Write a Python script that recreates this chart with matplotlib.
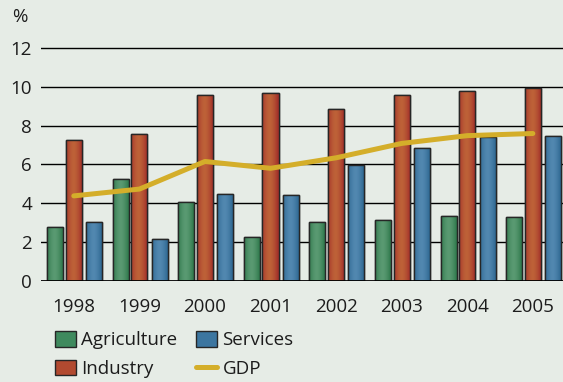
import numpy as np
import matplotlib
matplotlib.use("Agg")
import matplotlib.pyplot as plt
from matplotlib.colors import LinearSegmentedColormap

plt.rcParams['font.family'] = ['Open Sans', 'DejaVu Sans']

years = ['1998', '1999', '2000', '2001', '2002', '2003', '2004', '2005']
agriculture = [2.76, 5.24, 4.05, 2.27, 3.04, 3.14, 3.35, 3.28]
industry = [7.25, 7.57, 9.56, 9.66, 8.87, 9.56, 9.80, 9.92]
services = [3.06, 2.15, 4.50, 4.41, 5.98, 6.84, 7.42, 7.47]
gdp = [4.38, 4.73, 6.15, 5.80, 6.34, 7.08, 7.48, 7.59]

bg = '#E6ECE6'
ink = '#1C1C1C'
# (edge shade, centre highlight, flat colour) for the cylinder-like fill
shades = {
    'Agriculture': ('#2B7548', '#5A9A72', '#3F8A5E'),
    'Industry': ('#A2302A', '#BE6238', '#B24A30'),
    'Services': ('#2C6690', '#5288B0', '#3C76A0'),
}

fig = plt.figure(figsize=(5.63, 3.82), dpi=100, facecolor=bg)
ax = fig.add_axes([41 / 563, 1 - 281 / 382, 1 - 41 / 563, (281 - 41) / 382])
ax.set_facecolor(bg)

x = np.arange(len(years))
w = 0.245
series = [('Agriculture', agriculture, -0.285),
          ('Industry', industry, 0.0),
          ('Services', services, 0.31)]

prof = np.linspace(0, 1, 64)
prof = 1 - np.abs(2 * prof - 0.9) ** 1.6
grad = np.clip(prof, 0, 1)[None, :]

handles = {}
for name, vals, off in series:
    dark, light, base = shades[name]
    cmap = LinearSegmentedColormap.from_list(name, [dark, light])
    bars = ax.bar(x + off, vals, w, color=base, edgecolor='#262626',
                  linewidth=1.0, zorder=3)
    handles[name] = bars
    for r in bars:
        bx, by = r.get_x(), r.get_y()
        im = ax.imshow(grad, extent=[bx, bx + r.get_width(), by, by + r.get_height()],
                       aspect='auto', cmap=cmap, vmin=0, vmax=1, zorder=3.1,
                       interpolation='bilinear')
        im.set_clip_path(r)
    ax.bar(x + off, vals, w, fill=False, edgecolor='#262626', linewidth=1.0,
           zorder=3.2)

line, = ax.plot(x, gdp, color='#D4AE2A', lw=3.6, solid_capstyle='round',
                solid_joinstyle='round', zorder=4)

ax.set_xlim(-0.5, 7.46)
ax.set_ylim(0, 12.35)
ax.set_yticks([0, 2, 4, 6, 8, 10, 12])
for v in [2, 4, 6, 8, 10, 12]:
    ax.axhline(v, color='black', lw=1.0, zorder=1)
ax.axhline(0, color='black', lw=2.0, zorder=5)
for s in ax.spines.values():
    s.set_visible(False)
ax.tick_params(axis='y', length=0, pad=6.5, labelsize=13.5, labelcolor=ink)
ax.tick_params(axis='x', length=0, pad=12, labelsize=13.5, labelcolor=ink)
ax.set_xticks(x)
ax.set_xticklabels(years)

fig.text(19.5 / 563, 1 - 17.5 / 382, '%', fontsize=13.5, color=ink,
         ha='center', va='center')

leg = fig.legend([handles['Agriculture'], handles['Industry'],
                  handles['Services'], line],
                 ['Agriculture', 'Industry', 'Services', 'GDP'],
                 ncol=2, loc='upper left', bbox_to_anchor=(55 / 563, 1 - 331 / 382),
                 frameon=False, fontsize=13.5, handlelength=1.1, handleheight=0.9,
                 handletextpad=0.3, columnspacing=1.0, labelspacing=0.55,
                 borderpad=0, borderaxespad=0)
for t in leg.get_texts():
    t.set_color(ink)

fig.savefig('out.png', dpi=100, facecolor=bg)
